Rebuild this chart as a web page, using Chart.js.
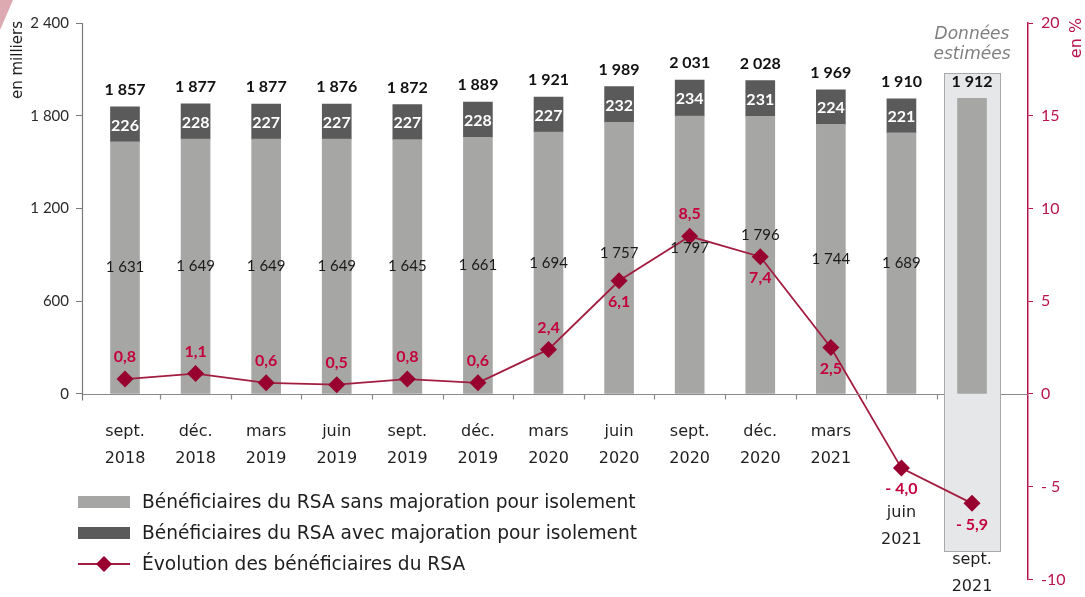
<!DOCTYPE html>
<html><head><meta charset="utf-8">
<script src="https://cdn.jsdelivr.net/npm/chart.js@4.4.1/dist/chart.umd.min.js"></script>
<style>html,body{margin:0;padding:0;background:#fff}#wrap{width:1085px;height:597px;position:relative}</style>
</head><body><div id="wrap"><canvas id="c" width="1085" height="597"></canvas></div>
<script>
// ---- data ----
const categories = [['sept.','2018'],['déc.','2018'],['mars','2019'],['juin','2019'],['sept.','2019'],['déc.','2019'],['mars','2020'],['juin','2020'],['sept.','2020'],['déc.','2020'],['mars','2021'],['juin','2021'],['sept.','2021']];
const sansMajoration = [1631,1649,1649,1649,1645,1661,1694,1757,1797,1796,1744,1689,1912];
const avecMajoration = [226,228,227,227,227,228,227,232,234,231,224,221,null];
const totals = [1857,1877,1877,1876,1872,1889,1921,1989,2031,2028,1969,1910,1912];
const evolution = [0.8,1.1,0.6,0.5,0.8,0.6,2.4,6.1,8.5,7.4,2.5,-4.0,-5.9];
const leftTicks = [0,600,1200,1800,2400];
const rightTicks = [20,15,10,5,0,-5,-10];
const estimatedIndex = 12;

// ---- styles ----
const NUM_FONT = 'Lato, "DejaVu Sans", sans-serif';
const TXT_FONT = '"DejaVu Sans", sans-serif';
const CRIMSON = '#b8134a';
const LABEL_RED = '#c4003c';
const LINE_RED = '#a31d40';
const MARK_RED = '#97002f';
const LIGHT = '#a6a6a5';
const DARK = '#5a5a5a';

const fmtK = v => String(v).replace(/\B(?=(\d{3})+(?!\d))/g, ' ');
const fmtPct = v => (v < 0 ? '- ' : '') + Math.abs(v).toFixed(1).replace('.', ',');

const evolBelow = new Set([7, 9, 10, 11, 12]);
const catLabelOffsets = {11: [119, 146], 12: [166, 193]};
const lightLabelNudge = {7: -5, 8: -7, 9: -20};

const decor = {
  id: 'decor',
  beforeDatasetsDraw(chart) {
    const {ctx, scales: {x}} = chart;
    const cx = x.getPixelForValue(estimatedIndex);
    ctx.save();
    ctx.fillStyle = '#e6e7e9';
    ctx.fillRect(cx - 28, 73, 56, 478);
    ctx.strokeStyle = '#a9a9a9';
    ctx.lineWidth = 1;
    ctx.strokeRect(Math.round(cx - 28) + 0.5, 73.5, 56, 478);
    ctx.restore();
  },
  afterDatasetsDraw(chart) {
    const {ctx, chartArea, scales: {x, y}} = chart;
    const y0 = Math.round(y.getPixelForValue(0)) + 0.5;
    const bx = x.getPixelForValue(estimatedIndex);
    ctx.save();
    ctx.strokeStyle = '#8a8a8a';
    ctx.lineWidth = 1.2;
    ctx.beginPath();
    ctx.moveTo(chartArea.left, y0); ctx.lineTo(bx - 28, y0);
    ctx.moveTo(bx + 29, y0); ctx.lineTo(chartArea.right, y0);
    for (let i = 0; i < categories.length - 1; i++) {
      const mx = Math.round((x.getPixelForValue(i) + x.getPixelForValue(i + 1)) / 2) + 0.5;
      ctx.moveTo(mx, y0); ctx.lineTo(mx, y0 + 5);
    }
    ctx.stroke();
    ctx.strokeStyle = '#7a7a7a';
    ctx.beginPath();
    const lx = Math.round(chartArea.left) + 0.5;
    ctx.moveTo(lx, y.getPixelForValue(2400)); ctx.lineTo(lx, y0 + 6);
    ctx.stroke();

    const m0 = chart.getDatasetMeta(0), m1 = chart.getDatasetMeta(1), m2 = chart.getDatasetMeta(2);
    ctx.textAlign = 'center';
    ctx.textBaseline = 'middle';
    m0.data.forEach((bar, i) => {
      if (avecMajoration[i] !== null) {
        ctx.fillStyle = '#1a1a1a';
        ctx.font = '15px ' + NUM_FONT;
        ctx.fillText(fmtK(sansMajoration[i]), bar.x, (bar.y + bar.base) / 2 + (lightLabelNudge[i] || 0));
        const d = m1.data[i];
        ctx.fillStyle = '#ffffff';
        ctx.font = 'bold 16px ' + NUM_FONT;
        ctx.fillText(fmtK(avecMajoration[i]), d.x, (d.y + d.base) / 2 + 1);
      }
      const top = avecMajoration[i] !== null ? m1.data[i].y : bar.y;
      ctx.fillStyle = '#111111';
      ctx.font = 'bold 16px ' + NUM_FONT;
      ctx.fillText(fmtK(totals[i]), bar.x, top - 17);
    });
    ctx.fillStyle = LABEL_RED;
    ctx.font = 'bold 16px ' + NUM_FONT;
    m2.data.forEach((pt, i) => {
      const dy = evolBelow.has(i) ? 21 : -22;
      ctx.fillText(fmtPct(evolution[i]), pt.x, pt.y + dy);
    });
    ctx.restore();
  },
  afterDraw(chart) {
    const {ctx, scales: {x, y}} = chart;
    const y0 = y.getPixelForValue(0);
    ctx.save();
    ctx.fillStyle = '#1e1e1e';
    ctx.font = '16px ' + TXT_FONT;
    ctx.textAlign = 'center';
    ctx.textBaseline = 'middle';
    categories.forEach((c, i) => {
      const off = catLabelOffsets[i] || [38, 65];
      const cx = x.getPixelForValue(i);
      ctx.fillText(c[0], cx, y0 + off[0]);
      ctx.fillText(c[1], cx, y0 + off[1]);
    });
    const bx = x.getPixelForValue(estimatedIndex);
    ctx.fillStyle = '#7f7f7f';
    ctx.font = 'italic 17px ' + TXT_FONT;
    ctx.fillText('Données', bx, 35);
    ctx.fillText('estimées', bx, 55);
    ctx.save();
    ctx.translate(18, 60);
    ctx.rotate(-Math.PI / 2);
    ctx.fillStyle = '#1e1e1e';
    ctx.font = '15px ' + TXT_FONT;
    ctx.fillText('en milliers', 0, 0);
    ctx.restore();
    ctx.save();
    ctx.translate(1077, 38);
    ctx.rotate(-Math.PI / 2);
    ctx.fillStyle = CRIMSON;
    ctx.font = '16px ' + TXT_FONT;
    ctx.fillText('en %', 0, 0);
    ctx.restore();
    const ds = chart.data.datasets;
    const ly = [502, 533, 564];
    ctx.textAlign = 'left';
    ctx.font = '18.6px ' + TXT_FONT;
    ctx.fillStyle = ds[0].backgroundColor;
    ctx.fillRect(78, ly[0] - 6, 52, 12);
    ctx.fillStyle = ds[1].backgroundColor;
    ctx.fillRect(78, ly[1] - 6, 52, 12);
    ctx.strokeStyle = ds[2].borderColor;
    ctx.lineWidth = 2;
    ctx.beginPath(); ctx.moveTo(78, ly[2]); ctx.lineTo(130, ly[2]); ctx.stroke();
    ctx.fillStyle = MARK_RED;
    ctx.beginPath();
    ctx.moveTo(104, ly[2] - 8); ctx.lineTo(112, ly[2]); ctx.lineTo(104, ly[2] + 8); ctx.lineTo(96, ly[2]);
    ctx.closePath(); ctx.fill();
    ctx.fillStyle = '#1e1e1e';
    ds.forEach((d, i) => ctx.fillText(d.label, 142, ly[i] + 1));
    ctx.fillStyle = '#dcaab0';
    ctx.beginPath(); ctx.moveTo(0, 0); ctx.lineTo(13, 0); ctx.lineTo(0, 30); ctx.closePath(); ctx.fill();
    ctx.restore();
  }
};

const pts = arr => arr.map((v, i) => ({x: i, y: v}));

new Chart(document.getElementById('c'), {
  data: {
    datasets: [
      {type: 'bar', label: 'Bénéficiaires du RSA sans majoration pour isolement', data: pts(sansMajoration),
       backgroundColor: LIGHT, yAxisID: 'y', stack: 's', barThickness: 29, order: 2},
      {type: 'bar', label: 'Bénéficiaires du RSA avec majoration pour isolement', data: pts(avecMajoration),
       backgroundColor: DARK, yAxisID: 'y', stack: 's', barThickness: 29, order: 2},
      {type: 'line', label: 'Évolution des bénéficiaires du RSA', data: pts(evolution), yAxisID: 'y2',
       borderColor: LINE_RED, borderWidth: 1.8, pointStyle: 'rectRot', pointRadius: 8.5, pointHoverRadius: 8.5,
       pointBackgroundColor: MARK_RED, pointBorderColor: MARK_RED, pointBorderWidth: 0, tension: 0, order: 0}
    ]
  },
  options: {
    responsive: false,
    devicePixelRatio: 1,
    animation: false,
    layout: {padding: {top: 23, bottom: 13, left: 0, right: 0}},
    plugins: {legend: {display: false}, tooltip: {enabled: false}},
    scales: {
      x: {type: 'linear', min: -0.609, max: 12.793, offset: false, display: false, stacked: true},
      y: {
        position: 'left', min: -1200, max: 2400, stacked: true,
        afterFit: s => { s.width = 82; },
        afterBuildTicks: s => { s.ticks = leftTicks.map(v => ({value: v})); },
        ticks: {callback: v => fmtK(v), color: '#2a2a2a', font: {family: NUM_FONT, size: 15}, padding: 7},
        grid: {drawOnChartArea: false, drawTicks: true, tickLength: 6, color: '#7a7a7a'},
        border: {display: false}
      },
      y2: {
        position: 'right', min: -10, max: 20,
        afterFit: s => { s.width = 57; },
        afterBuildTicks: s => { s.ticks = rightTicks.map(v => ({value: v})); },
        ticks: {callback: v => v === -10 ? '-10' : (v < 0 ? '- ' + Math.abs(v) : String(v)),
                color: CRIMSON, font: {family: NUM_FONT, size: 16}, padding: 8},
        grid: {drawOnChartArea: false, drawTicks: true, tickLength: 5, color: CRIMSON},
        border: {display: true, color: CRIMSON, width: 1.5}
      }
    }
  },
  plugins: [decor]
});
</script>
</body></html>
